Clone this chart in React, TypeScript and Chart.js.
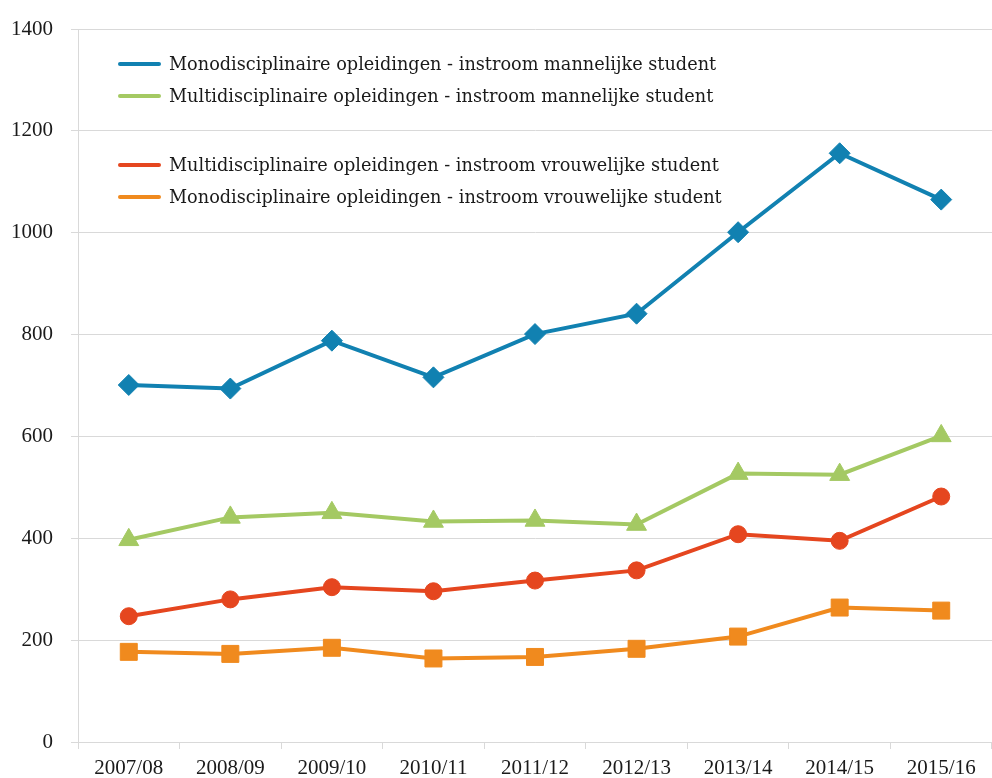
import React, { useEffect, useRef } from "react";
import { Chart, registerables } from "chart.js";

Chart.register(...registerables);

const categories = ["2007/08", "2008/09", "2009/10", "2010/11", "2011/12", "2012/13", "2013/14", "2014/15", "2015/16"];
const monoMan = [701, 694, 788, 716, 801, 841, 1001, 1156, 1065];
const multiMan = [397, 441, 450, 433, 435, 427, 527, 525, 601];
const multiVrouw = [247, 280, 304, 296, 317, 337, 408, 395, 482];
const monoVrouw = [177, 173, 185, 164, 167, 183, 207, 264, 258];

const seriesLabels = [
  "Monodisciplinaire opleidingen - instroom mannelijke student",
  "Multidisciplinaire opleidingen - instroom mannelijke student",
  "Multidisciplinaire opleidingen - instroom vrouwelijke student",
  "Monodisciplinaire opleidingen - instroom vrouwelijke student",
];
const yMin = 0;
const yMax = 1400;
const yStep = 200;

const BLUE = "#1181b1";
const GREEN = "#a4c963";
const RED = "#e5461f";
const ORANGE = "#f08a1e";
const GRID = "#d9d9d9";
const TEXT = "#1a1a1a";
const FONT = "'DejaVu Serif', serif";
const TICK_FONT = "'Liberation Serif', serif";

const legendRows = [64, 96, 165, 197];

const legendPlugin = {
  id: "customLegend",
  afterDraw(chart: any) {
    const ctx = chart.ctx;
    chart.data.datasets.forEach((ds: any, i: number) => {
      const y = legendRows[i];
      ctx.save();
      ctx.strokeStyle = ds.borderColor;
      ctx.lineWidth = 4;
      ctx.lineCap = "round";
      ctx.beginPath();
      ctx.moveTo(120, y);
      ctx.lineTo(159, y);
      ctx.stroke();
      ctx.fillStyle = TEXT;
      ctx.font = "17.7px " + FONT;
      ctx.textBaseline = "alphabetic";
      ctx.textAlign = "left";
      ctx.fillText(ds.label, 169, y + 6);
      ctx.restore();
    });
  },
};

function makeDataset(label: string, data: number[], color: string, style: string, radius: number) {
  return {
    label,
    data,
    borderColor: color,
    backgroundColor: color,
    borderWidth: 4,
    pointStyle: style,
    pointRadius: radius,
    pointHoverRadius: radius,
    pointBackgroundColor: color,
    pointBorderColor: color,
    pointBorderWidth: 1,
    tension: 0,
    fill: false,
  };
}

export default function App() {
  const ref = useRef<HTMLCanvasElement | null>(null);

  useEffect(() => {
    if (!ref.current) return;
    const chart = new Chart(ref.current, {
      type: "line",
      data: {
        labels: categories,
        datasets: [
          makeDataset(seriesLabels[0], monoMan, BLUE, "rectRot", 10.5),
          makeDataset(seriesLabels[1], multiMan, GREEN, "triangle", 11.5),
          makeDataset(seriesLabels[2], multiVrouw, RED, "circle", 8.5),
          makeDataset(seriesLabels[3], monoVrouw, ORANGE, "rect", 12),
        ],
      },
      options: {
        responsive: false,
        animation: false,
        layout: { autoPadding: false, padding: { top: 29, right: 0, left: 0, bottom: 0 } },
        plugins: {
          legend: { display: false },
          tooltip: { enabled: false },
        },
        scales: {
          x: {
            offset: true,
            grid: {
              offset: true,
              drawOnChartArea: false,
              drawTicks: true,
              tickLength: 7,
              color: GRID,
              lineWidth: 1,
            },
            border: { display: true, color: GRID },
            ticks: {
              color: TEXT,
              font: { family: TICK_FONT, size: 21 },
              padding: 7,
              maxRotation: 0,
              autoSkip: false,
            },
            afterFit(scale: any) {
              scale.height = 36;
              scale.paddingLeft = 0;
              scale.paddingRight = 0;
            },
          },
          y: {
            min: yMin,
            max: yMax,
            grid: {
              color: GRID,
              lineWidth: 1,
              drawTicks: true,
              tickLength: 7,
            },
            border: { display: true, color: GRID },
            ticks: {
              stepSize: yStep,
              color: TEXT,
              font: { family: TICK_FONT, size: 21 },
              padding: 18,
              callback: (v: any) => String(v),
            },
            afterFit(scale: any) {
              scale.width = 78;
              scale.paddingTop = 0;
              scale.paddingBottom = 0;
            },
          },
        },
      },
      plugins: [legendPlugin],
    } as any);
    return () => chart.destroy();
  }, []);

  return (
    <div style={{ position: "absolute", left: 0, top: 0, width: 992, height: 778, background: "#fff" }}>
      <canvas ref={ref} width={992} height={778} style={{ display: "block" }} />
    </div>
  );
}
